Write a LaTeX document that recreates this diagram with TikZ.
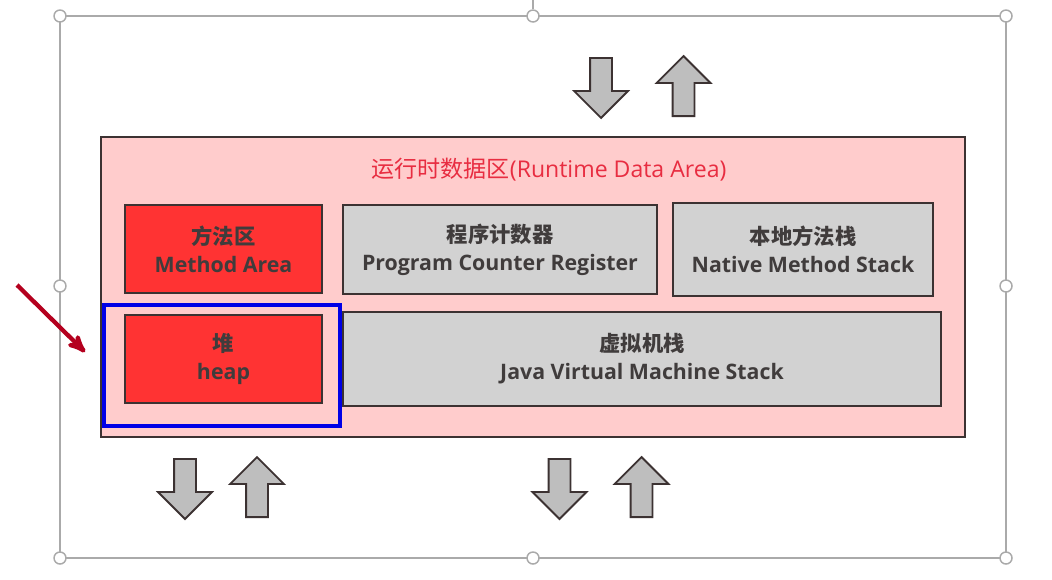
\documentclass[tikz,border=0pt]{standalone}
\usepackage{fontspec}
\setmainfont{Open Sans}
\newfontfamily\cjk{Noto Sans CJK SC}
\usetikzlibrary{arrows,shapes.arrows}
\definecolor{areapink}{RGB}{255,204,204}
\definecolor{areared}{RGB}{255,51,51}
\definecolor{areagray}{RGB}{210,210,210}
\definecolor{boxedge}{RGB}{60,50,50}
\definecolor{boxtext}{RGB}{64,60,60}
\definecolor{titlered}{RGB}{232,45,65}
\definecolor{selgray}{RGB}{170,170,170}
\definecolor{markblue}{RGB}{0,0,230}
\definecolor{pointred}{RGB}{180,0,30}
\definecolor{flowgray}{RGB}{190,190,190}

\begin{document}
\begin{tikzpicture}[x=0.75pt,y=-0.75pt,>=stealth',semithick]
\tikzstyle{region}=[draw=boxedge,line width=1.6pt,text=boxtext,align=center,
  inner sep=0pt,font=\bfseries\fontsize{16}{21}\selectfont]
\tikzstyle{redbox}=[region,fill=areared]
\tikzstyle{graybox}=[region,fill=areagray]
\tikzstyle{handle}=[circle,draw=selgray,fill=white,line width=1.1pt,
  minimum size=9pt,inner sep=0pt]
\tikzstyle{flow}=[single arrow,draw=boxedge,fill=flowgray,line width=1.4pt,
  inner xsep=0pt,inner ysep=7.5pt,minimum height=45pt,
  single arrow head extend=12pt,anchor=tail]
\useasboundingbox (0,0) rectangle (1052,579);

% selection frame
\draw[selgray,line width=1.1pt] (60,16) rectangle (1006,558);
\coordinate (rot) at (533,0);
\node[handle] (h1) at (60,16) {};
\node[handle] (h2) at (533,16) {};
\node[handle] (h3) at (1006,16) {};
\node[handle] (h4) at (60,286) {};
\node[handle] (h5) at (1006,286) {};
\node[handle] (h6) at (60,558) {};
\node[handle] (h7) at (533,558) {};
\node[handle] (h8) at (1006,558) {};
\draw[selgray,line width=1.1pt] (h2) -- (rot);

% runtime data area
\node[draw=boxedge,fill=areapink,line width=1.6pt,minimum width=648pt,
  minimum height=225pt] (area) at (533,287) {};
\node[text=titlered,font=\fontsize{17.3}{20}\selectfont] (title) at (549,170)
  {{\cjk 运行时数据区}(Runtime Data Area)};

\node[redbox,minimum width=147.75pt,minimum height=66pt] (method) at (223.5,249)
  {{\cjk 方法区}\\Method Area};
\node[graybox,minimum width=235.5pt,minimum height=66.75pt] (pcr) at (500,249.5)
  {{\cjk 程序计数器}\\Program Counter Register};
\node[graybox,minimum width=195pt,minimum height=69.75pt] (native) at (803,249.5)
  {{\cjk 本地方法栈}\\Native Method Stack};
\node[redbox,minimum width=147.75pt,minimum height=66pt] (heap) at (223.5,359)
  {{\cjk 堆}\\heap};
\node[graybox,minimum width=448.5pt,minimum height=70.5pt] (jvm) at (642,359)
  {{\cjk 虚拟机栈}\\Java Virtual Machine Stack};

% highlight on the heap
\node[draw=markblue,line width=2.4pt,minimum width=177pt,minimum height=90.75pt]
  (heapmark) at (222,365.5) {};
\coordinate (ptrstart) at (17,285);
\coordinate (ptrend) at (85,352);
\draw[->,pointred,line width=3.2pt] (ptrstart) -- (ptrend);

% data flow in and out
\node[flow,rotate=270] (topdown) at (601,57) {};
\node[flow,rotate=90] (topup) at (683.5,117) {};
\node[flow,rotate=270] (heapdown) at (185,458) {};
\node[flow,rotate=90] (heapup) at (257,518) {};
\node[flow,rotate=270] (stackdown) at (559.5,458) {};
\node[flow,rotate=90] (stackup) at (641.5,518) {};

\end{tikzpicture}
\end{document}
